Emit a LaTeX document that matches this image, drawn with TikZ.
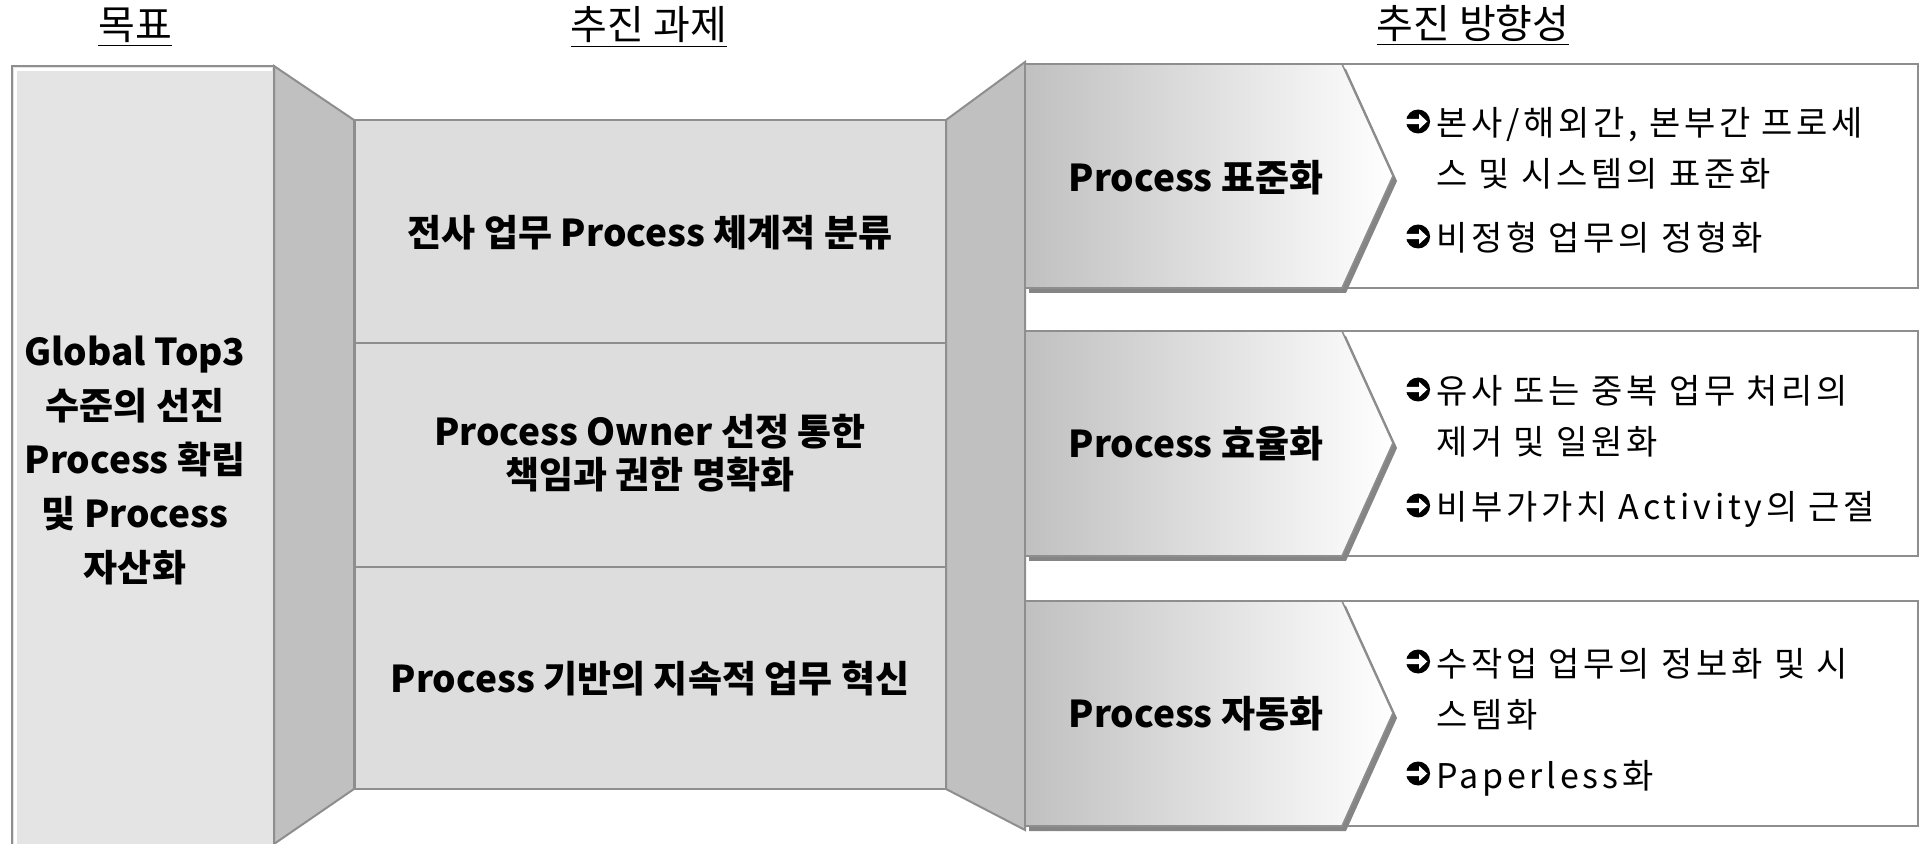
\documentclass[tikz,border=0pt]{standalone}
\usepackage{fontspec}
\setmainfont{Noto Sans CJK KR}
\newfontfamily\descfont[LetterSpace=11]{Noto Sans CJK KR}

\definecolor{goalgray}{HTML}{E4E4E4}
\definecolor{taskgray}{HTML}{DDDDDD}
\definecolor{wallgray}{HTML}{C0C0C0}
\definecolor{linegray}{HTML}{8E8E8E}
\definecolor{shadegray}{HTML}{858585}

% circled arrow bullet
\newcommand{\dirmark}{\tikz[x=1pt, y=1pt, baseline=-7.25pt]{%
    \fill[black] (0,0) circle (6pt);
    \fill[white] (-6.5,1.3) -- (0.5,1.3) -- (0.5,3.8) -- (4.6,0) -- (0.5,-3.8) -- (0.5,-1.3) -- (-6.5,-1.3) -- cycle;}\hspace{3pt}}

\begin{document}
\begin{tikzpicture}[x=0.5pt, y=-0.5pt,
    wall/.style={fill=wallgray, draw=linegray, line width=1pt},
    cell/.style={fill=taskgray, draw=linegray, line width=1pt},
    goalbox/.style={fill=goalgray, draw=linegray, line width=1pt},
    descbox/.style={fill=white, draw=linegray, line width=0.8pt},
    chevron/.style={draw=linegray, line width=0.8pt, left color=wallgray, right color=white},
    chevshadow/.style={fill=shadegray},
    headtext/.style={font=\fontsize{20}{24}\selectfont},
    goaltext/.style={font=\fontsize{18.5}{27}\selectfont\bfseries, align=center},
    tasktext/.style={font=\fontsize{18.5}{21.5}\selectfont\bfseries, align=center},
    desctext/.style={font=\descfont\fontsize{17}{25.5}\selectfont, align=left, anchor=base west}]
    \useasboundingbox (0,0) rectangle (1924,844);

    % Headings
    \node[headtext] (goalhead) at (135,27) {\underline{목표}};
    \node[headtext] (taskhead) at (649,27) {\underline{추진 과제}};
    \node[headtext] (dirhead) at (1473,25) {\underline{추진 방향성}};

    % Goal column
    \draw[goalbox] (12,850) -- (12,66) -- (274,66) -- (274,850);
    \draw[white, line width=1.5pt] (15.5,850) -- (15.5,69.5) -- (272,69.5);
    \draw[wall] (274,66) -- (354,120) -- (354,789) -- (274,844) -- cycle;

    % Task rows
    \draw[cell] (355,120) rectangle (946,343);
    \draw[cell] (355,343) rectangle (946,567);
    \draw[cell] (355,567) rectangle (946,789);
    \draw[wall] (946,120) -- (1025,62) -- (1025,830) -- (946,789) -- cycle;

    % Direction rows - box, shadow, chevron
    \draw[descbox] (1300,64) rectangle (1918,288);
    \fill[chevshadow] (1029,69) -- (1346,69) -- (1397,181) -- (1346,293) -- (1029,293) -- cycle;
    \draw[chevron] (1025,64) -- (1342,64) -- (1393,176) -- (1342,288) -- (1025,288) -- cycle;

    \draw[descbox] (1300,331) rectangle (1918,556);
    \fill[chevshadow] (1029,336) -- (1346,336) -- (1397,448) -- (1346,561) -- (1029,561) -- cycle;
    \draw[chevron] (1025,331) -- (1342,331) -- (1393,443) -- (1342,556) -- (1025,556) -- cycle;

    \draw[descbox] (1300,601) rectangle (1918,826);
    \fill[chevshadow] (1029,606) -- (1346,606) -- (1397,718) -- (1346,831) -- (1029,831) -- cycle;
    \draw[chevron] (1025,601) -- (1342,601) -- (1393,713) -- (1342,826) -- (1025,826) -- cycle;

    % Labels
    \node[goaltext] (goal) at (135,460) {Global Top3\\수준의 선진\\Process 확립\\및 Process\\자산화};

    \node[tasktext] (task1) at (650,233) {전사 업무 Process 체계적 분류};
    \node[tasktext] (task2) at (650,453) {Process Owner 선정 통한\\책임과 권한 명확화};
    \node[tasktext] (task3) at (650,679) {Process 기반의 지속적 업무 혁신};

    \node[tasktext] (dir1) at (1196,178) {Process 표준화};
    \node[tasktext] (dir2) at (1196,444) {Process 효율화};
    \node[tasktext] (dir3) at (1196,714) {Process 자동화};

    % last line sits on the given point
    \node[desctext] (desc1a) at (1398,187) {\dirmark 본사/해외간, 본부간 프로세\\\hphantom{\dirmark}스 및 시스템의 표준화};
    \node[desctext] (desc1b) at (1398,251) {\dirmark 비정형 업무의 정형화};
    \node[desctext] (desc2a) at (1398,455) {\dirmark 유사 또는 중복 업무 처리의\\\hphantom{\dirmark}제거 및 일원화};
    \node[desctext] (desc2b) at (1398,520) {\dirmark 비부가가치 Activity의 근절};
    \node[desctext] (desc3a) at (1398,727) {\dirmark 수작업 업무의 정보화 및 시\\\hphantom{\dirmark}스템화};
    \node[desctext] (desc3b) at (1398,788) {\dirmark Paperless화};

  \end{tikzpicture}
\end{document}
